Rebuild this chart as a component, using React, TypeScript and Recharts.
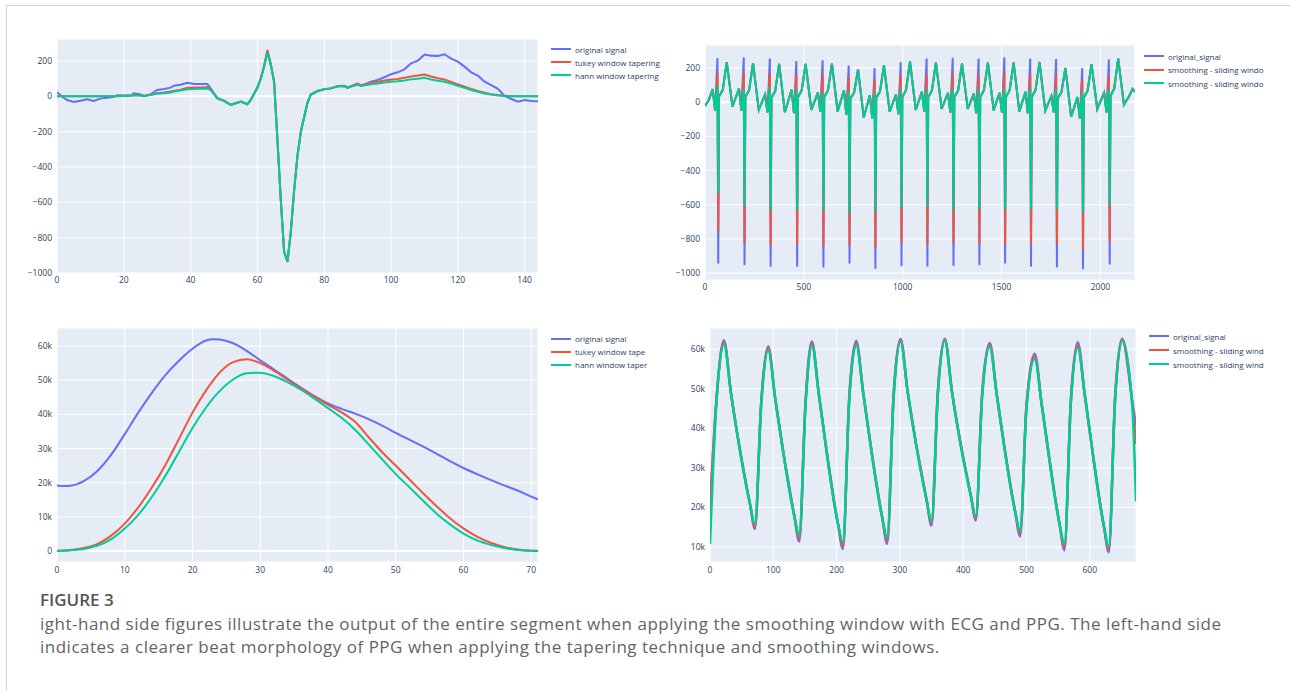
import React from 'react';
import { LineChart, Line, XAxis, YAxis, CartesianGrid, ReferenceLine } from 'recharts';

const BLUE = '#636efa';
const RED = '#EF553B';
const GREEN = '#00cc96';
const PLOT_BG = '#E5ECF6';
const TICK = '#2a3f5f';
const FONT = '"Open Sans", "Noto Sans", sans-serif';

// ---- top left: one ECG beat, tapering
const ecgSegX = [0, 1, 2, 3, 5, 7, 9, 11, 13, 15, 17, 18, 20, 22, 23, 25, 26, 28, 30, 32, 34, 35, 37, 39, 41, 43, 45, 46, 48, 50, 52, 54, 55, 57, 58, 60, 61, 62, 63, 64, 65, 66, 67, 68, 69, 70, 71, 72, 73, 74, 75, 76, 78, 80, 82, 84, 86, 87, 88, 90, 91, 92, 94, 96, 98, 100, 102, 104, 106, 108, 110, 112, 114, 116, 118, 120, 122, 124, 126, 128, 130, 132, 134, 136, 138, 140, 142, 144];
const ecgSegOriginal = [23, 8, -8, -21, -32, -25, -17, -26, -13, -8, -2, 6, 4, 4, 17, 11, 2, 11, 36, 42, 49, 60, 66, 77, 70, 70, 70, 45, -11, -25, -49, -36, -30, -45, -20, 50, 100, 170, 255, 180, 81, -249, -587, -880, -935, -766, -530, -335, -200, -117, -35, 10, 30, 40, 45, 58, 60, 50, 58, 72, 62, 66, 83, 93, 108, 125, 136, 153, 187, 202, 236, 230, 229, 238, 213, 196, 168, 136, 117, 83, 64, 42, 2, -15, -30, -21, -26, -28];
const ecgSegTukey = [0, 0, 0, 0, 0, 0, 0, 0, 0, 0, 0, 2, 3, 4, 8, 6, 2, 10, 18, 22, 27, 32, 38, 48, 50, 50, 53, 40, -10, -25, -48, -36, -30, -45, -20, 50, 100, 172, 262, 185, 83, -249, -587, -882, -938, -766, -530, -335, -200, -117, -35, 10, 30, 40, 45, 57, 58, 48, 56, 70, 60, 68, 75, 82, 90, 95, 98, 105, 112, 118, 124, 112, 102, 95, 82, 68, 55, 42, 30, 20, 12, 7, 3, 1, 0, 0, 0, 0];
const ecgSegHann = [0, 0, 0, 0, 0, 0, 0, 0, 0, 0, 0, 1, 2, 3, 6, 4, 1, 8, 14, 18, 22, 27, 33, 40, 42, 43, 45, 35, -12, -26, -48, -36, -30, -45, -20, 50, 100, 168, 248, 178, 80, -249, -587, -880, -935, -766, -530, -335, -200, -117, -35, 10, 30, 40, 45, 56, 58, 48, 55, 65, 58, 62, 68, 72, 78, 83, 86, 90, 96, 100, 105, 95, 88, 82, 72, 60, 48, 36, 26, 16, 10, 5, 2, 0, 0, 0, 0, 0];
const ecgSegXTicks = [0, 20, 40, 60, 80, 100, 120, 140];
const ecgSegYTicks = [-1000, -800, -600, -400, -200, 0, 200];
const ecgSegNames = ['original signal', 'tukey window tapering', 'hann window tapering'];

// ---- top right: whole ECG record, sliding window smoothing (key points of each beat)
const ecgBeatX = [63, 196, 328, 462, 595, 727, 858, 990, 1121, 1253, 1384, 1514, 1645, 1776, 1908, 2043];
const ecgOrigTop = [257, 262, 255, 240, 245, 215, 200, 235, 255, 260, 255, 262, 255, 252, 200, 250];
const ecgOrigLow = [-944, -953, -963, -963, -968, -945, -975, -960, -962, -958, -955, -945, -962, -968, -978, -950];
const ecgSmooth1Top = [173, 175, 170, 165, 165, 150, 135, 160, 165, 170, 165, 172, 168, 166, 135, 155];
const ecgSmooth1Low = [-754, -826, -840, -836, -845, -840, -852, -828, -835, -832, -835, -833, -830, -835, -862, -822];
const ecgSmooth2Top = [98, 80, 85, 78, 60, 62, 55, 75, 80, 82, 80, 85, 82, 80, 60, 75];
const ecgSmooth2Low = [-532, -610, -633, -633, -636, -650, -640, -622, -612, -630, -626, -626, -626, -626, -642, -605];
const ecgP = [76, 80, 45, 72, 56, 70, 40, 45, 60, 55, 50, 55, 60, 35, 30, 55];
const ecgDip = [-50, -50, -60, -64, -55, -74, -95, -70, -55, -60, -65, -60, -65, -60, -95, -60];
const ecgJ = [33, 30, 25, 28, 30, 20, 25, 30, 28, 30, 28, 30, 30, 22, 28, 35];
const ecgST = [72, 70, 65, 68, 70, 55, 62, 72, 70, 66, 70, 70, 72, 58, 66, 80];
const ecgT = [234, 228, 224, 224, 226, 192, 215, 238, 232, 225, 232, 232, 235, 200, 222, 255];
const ecgTrough = [-27, -45, -59, -45, -55, -90, -55, -45, -40, -40, -48, -55, -50, -85, -40, -15];
const ecgLeadX = [0, 18];
const ecgLeadVal = [-22, 10];
const ecgTailX = [2148, 2162, 2175];
const ecgTailVal = [40, 78, 60];
// where each feature sits relative to the R spike (x units)
const ecgShape = { p: -24, dip: -12, low: 4, j: 8, st: 27, t: 47, trough: 76 };
const ecgXTicks = [0, 500, 1000, 1500, 2000];
const ecgNames = ['original_signal', 'smoothing - sliding windo', 'smoothing - sliding windo'];

// ---- bottom left: one PPG beat, tapering
const ppgSegX = [0, 1, 2, 4, 6, 8, 10, 12, 14, 16, 18, 20, 22, 23, 24, 26, 28, 30, 32, 34, 36, 38, 40, 42, 44, 46, 48, 50, 52, 54, 56, 58, 60, 62, 64, 66, 68, 70, 71];
const ppgSegOriginal = [19200, 19000, 19100, 20500, 23500, 28200, 34200, 40500, 46300, 51500, 55700, 59200, 61600, 62000, 61900, 60800, 58600, 55800, 53200, 50500, 47800, 45300, 43200, 41600, 40200, 38600, 36700, 34600, 32600, 30600, 28500, 26300, 24300, 22500, 20800, 19200, 17700, 15900, 15100];
const ppgSegTukey = [100, 150, 300, 900, 2100, 4500, 8000, 12800, 18600, 25200, 32800, 40500, 47000, 49800, 52200, 55300, 56100, 55000, 52800, 50200, 47600, 45200, 42800, 40600, 37800, 33300, 28900, 25000, 21000, 17000, 13200, 9600, 6600, 4200, 2400, 1200, 450, 100, 50];
const ppgSegHann = [0, 50, 200, 600, 1600, 3500, 6600, 10600, 15800, 22000, 29000, 36000, 42000, 44600, 46800, 50200, 52000, 52200, 51200, 49400, 47200, 44600, 41800, 39000, 35500, 31200, 26800, 22500, 18700, 14800, 11000, 7800, 5100, 3100, 1800, 900, 300, 50, 0];
const ppgSegXTicks = [0, 10, 20, 30, 40, 50, 60, 70];
const ppgSegYTicks = [0, 10000, 20000, 30000, 40000, 50000, 60000];
const ppgSegNames = ['original signal', 'tukey window tape', 'hann window taper'];

// ---- bottom right: whole PPG record, sliding window smoothing
const ppgX = [0, 10, 22, 33, 63, 71, 81, 92, 103, 133, 141, 151, 161, 172, 202, 210, 220, 231, 242, 272, 280, 290, 301, 312, 342, 350, 360, 371, 382, 412, 420, 430, 442, 453, 482, 490, 500, 513, 524, 552, 560, 570, 581, 592, 622, 630, 640, 651, 667, 673];
const ppgOriginal = [20000, 47000, 62200, 49000, 21000, 14600, 47000, 60700, 47500, 18000, 11400, 47000, 61900, 48500, 16000, 9500, 48000, 62100, 49000, 17500, 10800, 48500, 62600, 49500, 22000, 15400, 49500, 62600, 49500, 23000, 16700, 49000, 61500, 48500, 19000, 12700, 46000, 58800, 46000, 16000, 9200, 47000, 61700, 48500, 15500, 8700, 48000, 62600, 47000, 40500];
const ppgSmooth1 = [18500, 46500, 61800, 49000, 21000, 15200, 46500, 60200, 47500, 18000, 12100, 46500, 61400, 48500, 16000, 10300, 47500, 61600, 49000, 17500, 11500, 48000, 62300, 49500, 22000, 16000, 49000, 62400, 49500, 23000, 17200, 48500, 61000, 48500, 19000, 13400, 45500, 58200, 46000, 16000, 10000, 46500, 61000, 48500, 15500, 9400, 47500, 62400, 46500, 36000];
const ppgSmooth2 = [10800, 46000, 61300, 49000, 21000, 15900, 46000, 59600, 47500, 18000, 12900, 46000, 60800, 48500, 16000, 11200, 47000, 61100, 49000, 17500, 12300, 47500, 61900, 49500, 22000, 16600, 48500, 62100, 49500, 23000, 17800, 48000, 60500, 48500, 19000, 14100, 45000, 57500, 46000, 16000, 10800, 46000, 60300, 48500, 15500, 10200, 47000, 62100, 46000, 21500];
const ppgXTicks = [0, 100, 200, 300, 400, 500, 600];
const ppgYTicks = [10000, 20000, 30000, 40000, 50000, 60000];
const ppgNames = ['original_signal', 'smoothing - sliding wind', 'smoothing - sliding wind'];

const captionTitle = 'FIGURE 3';
const captionLines = [
  'ight-hand side figures illustrate the output of the entire segment when applying the smoothing window with ECG and PPG. The left-hand side',
  'indicates a clearer beat morphology of PPG when applying the tapering technique and smoothing windows.',
];

type Row = { x: number; a: number; b: number; c: number };

const toRows = (xs: number[], a: number[], b: number[], c: number[]): Row[] =>
  xs.map((x, i) => ({ x, a: a[i], b: b[i], c: c[i] }));

function buildEcgRows(): Row[] {
  const rows: Row[] = [];
  const same = (x: number, v: number) => rows.push({ x, a: v, b: v, c: v });
  ecgLeadX.forEach((x, i) => same(x, ecgLeadVal[i]));
  ecgBeatX.forEach((s, i) => {
    same(s + ecgShape.p, ecgP[i]);
    same(s + ecgShape.dip, ecgDip[i]);
    rows.push({ x: s, a: ecgOrigTop[i], b: ecgSmooth1Top[i], c: ecgSmooth2Top[i] });
    rows.push({ x: s + ecgShape.low, a: ecgOrigLow[i], b: ecgSmooth1Low[i], c: ecgSmooth2Low[i] });
    same(s + ecgShape.j, ecgJ[i]);
    same(s + ecgShape.st, ecgST[i]);
    same(s + ecgShape.t, ecgT[i]);
    same(s + ecgShape.trough, ecgTrough[i]);
  });
  ecgTailX.forEach((x, i) => same(x, ecgTailVal[i]));
  return rows;
}

const signedFmt = (v: number) => (v < 0 ? `\u2212${Math.abs(v)}` : `${v}`);
const kFmt = (v: number) => (v === 0 ? '0' : `${v / 1000}k`);
const tickStyle = { fontSize: 8.5, fill: TICK, fontFamily: FONT };

type PanelProps = {
  left: number;
  top: number;
  width: number;
  yWidth: number;
  right: number;
  xHeight: number;
  xGap: number;
  data: Row[];
  xDomain: [number, number];
  yDomain: [number, number];
  xTicks: number[];
  yTicks: number[];
  yFmt: (v: number) => string;
  curve: 'linear' | 'monotone';
  sw: number;
  zero: boolean;
};

function Panel(p: PanelProps) {
  return (
    <div style={{ position: 'absolute', left: p.left, top: p.top }}>
      <LineChart width={p.width} height={262} data={p.data} margin={{ top: 9, right: p.right, bottom: 0, left: 0 }}>
        <CartesianGrid fill={PLOT_BG} stroke="#ffffff" strokeWidth={1} />
        <XAxis
          dataKey="x"
          type="number"
          domain={p.xDomain}
          ticks={p.xTicks}
          interval={0}
          allowDataOverflow
          axisLine={false}
          tickLine={false}
          tickSize={0}
          tickMargin={p.xGap}
          height={p.xHeight}
          tick={tickStyle}
        />
        <YAxis
          type="number"
          domain={p.yDomain}
          ticks={p.yTicks}
          interval={0}
          allowDataOverflow
          axisLine={false}
          tickLine={false}
          tickSize={0}
          tickMargin={5}
          width={p.yWidth}
          tick={tickStyle}
          tickFormatter={p.yFmt}
        />
        {p.zero && <ReferenceLine y={0} stroke="#ffffff" strokeWidth={2} />}
        <Line dataKey="a" type={p.curve} stroke={BLUE} strokeWidth={p.sw} dot={false} isAnimationActive={false} />
        <Line dataKey="b" type={p.curve} stroke={RED} strokeWidth={p.sw} dot={false} isAnimationActive={false} />
        <Line dataKey="c" type={p.curve} stroke={GREEN} strokeWidth={p.sw} dot={false} isAnimationActive={false} />
      </LineChart>
    </div>
  );
}

function PanelLegend({ left, top, gap, names }: { left: number; top: number; gap: number; names: string[] }) {
  const colors = [BLUE, RED, GREEN];
  return (
    <div style={{ position: 'absolute', left, top, fontFamily: FONT, fontSize: 8, color: TICK }}>
      {names.map((n, i) => (
        <div key={i} style={{ display: 'flex', alignItems: 'center', height: gap, whiteSpace: 'nowrap' }}>
          <span style={{ display: 'inline-block', width: 20, height: 2, background: colors[i], marginRight: 4 }} />
          <span>{n}</span>
        </div>
      ))}
    </div>
  );
}

export default function App() {
  const ecgSegRows = toRows(ecgSegX, ecgSegOriginal, ecgSegTukey, ecgSegHann);
  const ecgRows = buildEcgRows();
  const ppgSegRows = toRows(ppgSegX, ppgSegOriginal, ppgSegTukey, ppgSegHann);
  const ppgRows = toRows(ppgX, ppgOriginal, ppgSmooth1, ppgSmooth2);

  return (
    <div style={{ position: 'absolute', left: 0, top: 0, width: 1290, height: 691, background: '#fff', overflow: 'hidden' }}>
      <div style={{ position: 'absolute', left: 6, top: 5, width: 1300, height: 700, borderTop: '1px solid #d4d4d4', borderLeft: '1px solid #d4d4d4' }} />

      <Panel left={0} top={30} width={545} yWidth={57} right={7} xHeight={19} xGap={4}
        data={ecgSegRows} xDomain={[0, 144]} yDomain={[-1000, 324.5]}
        xTicks={ecgSegXTicks} yTicks={ecgSegYTicks} yFmt={signedFmt} curve="linear" sw={2} zero />
      <PanelLegend left={551} top={42.5} gap={13} names={ecgSegNames} />

      <Panel left={650} top={36} width={490} yWidth={55} right={5} xHeight={18} xGap={4}
        data={ecgRows} xDomain={[0, 2175]} yDomain={[-1041, 334.6]}
        xTicks={ecgXTicks} yTicks={ecgSegYTicks} yFmt={signedFmt} curve="linear" sw={2} zero />
      <PanelLegend left={1144} top={49.25} gap={13.5} names={ecgNames} />

      <Panel left={0} top={319} width={545} yWidth={57} right={7} xHeight={19} xGap={5}
        data={ppgSegRows} xDomain={[0, 71]} yDomain={[-3220, 65268]}
        xTicks={ppgSegXTicks} yTicks={ppgSegYTicks} yFmt={kFmt} curve="monotone" sw={2} zero />
      <PanelLegend left={551} top={332} gap={13} names={ppgSegNames} />

      <Panel left={650} top={319} width={490} yWidth={60} right={4} xHeight={19} xGap={5}
        data={ppgRows} xDomain={[0, 673]} yDomain={[6212, 65303]}
        xTicks={ppgXTicks} yTicks={ppgYTicks} yFmt={kFmt} curve="monotone" sw={2.5} zero={false} />
      <PanelLegend left={1149} top={329} gap={14} names={ppgNames} />

      <div style={{ position: 'absolute', left: 40, top: 588, fontFamily: FONT, fontSize: 17, fontWeight: 600, lineHeight: '23px', color: '#555' }}>
        {captionTitle}
      </div>
      {captionLines.map((t, i) => (
        <div key={i} style={{ position: 'absolute', left: 40, top: 612 + i * 23, fontFamily: FONT, fontSize: 17, letterSpacing: 0.5, lineHeight: '23px', color: '#646464', whiteSpace: 'nowrap' }}>
          {t}
        </div>
      ))}
    </div>
  );
}
